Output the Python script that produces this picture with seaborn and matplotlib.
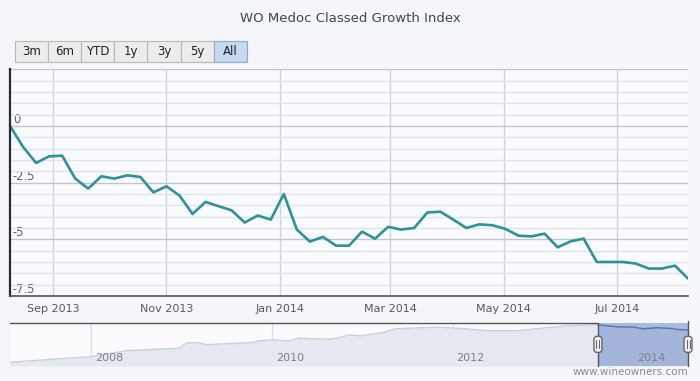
import pandas as pd
import matplotlib
matplotlib.use('Agg')
import matplotlib.pyplot as plt
import matplotlib.dates as mdates
from matplotlib.ticker import MultipleLocator
from matplotlib.patches import FancyBboxPatch
from matplotlib.transforms import IdentityTransform
import seaborn as sns

# --- data ---
title = 'WO Medoc Classed Growth Index'
range_buttons = ['3m', '6m', 'YTD', '1y', '3y', '5y', 'All']
selected_button = 'All'

# weekly index, % change since the start of the visible range
first_week = '2013-08-09'
index_change = [0.0, -0.92, -1.63, -1.34, -1.31, -2.32, -2.76, -2.22, -2.32, -2.18,
                -2.25, -2.93, -2.66, -3.07, -3.88, -3.35, -3.54, -3.72, -4.26, -3.95,
                -4.13, -3.00, -4.57, -5.10, -4.89, -5.28, -5.28, -4.66, -4.97, -4.45,
                -4.57, -4.50, -3.82, -3.78, -4.13, -4.50, -4.34, -4.38, -4.54, -4.84,
                -4.87, -4.75, -5.35, -5.09, -4.97, -6.00, -6.00, -6.00, -6.07, -6.29,
                -6.29, -6.16, -6.73]
y_ticks = [-7.5, -5, -2.5, 0, 2.5]
y_labels = ['-7.5', '-5', '-2.5', '0', '']

# navigator: full history of the index level
nav_dates = ['2007-02-06', '2008-01-01', '2008-05-22', '2008-12-20', '2009-01-22',
             '2009-03-10', '2009-04-08', '2009-08-18', '2009-10-08', '2009-11-06',
             '2009-12-28', '2010-03-15', '2010-04-16', '2010-08-15', '2010-09-24',
             '2010-11-10', '2010-12-24', '2011-03-25', '2011-05-04', '2011-07-01',
             '2011-10-30', '2012-01-18', '2012-05-18', '2012-09-16', '2013-02-06',
             '2013-04-05', '2013-07-26', '2013-08-09', '2013-11-01', '2014-01-03',
             '2014-02-07', '2014-04-04', '2014-06-13', '2014-06-20', '2014-08-08']
nav_level = [100.0, 114.9, 130.9, 137.2, 152.1, 151.3, 146.8, 150.5, 152.1, 156.7,
             159.3, 156.7, 163.8, 161.2, 164.6, 172.6, 170.0, 178.7, 187.8, 190.4,
             193.1, 190.4, 184.1, 184.1, 193.1, 196.6, 199.2, 199.2, 193.8, 193.2,
             188.7, 191.7, 189.3, 187.2, 185.8]
nav_years = [2008, 2010, 2012, 2014]

view_start = pd.Timestamp('2013-08-09')
view_end = pd.Timestamp('2014-08-08')
nav_start = pd.Timestamp('2007-02-06')

line_color = '#2e929b'

df = pd.DataFrame({'date': pd.date_range(first_week, periods=len(index_change), freq='7D'),
                   'change': index_change})
nav = pd.DataFrame({'date': pd.to_datetime(nav_dates), 'level': nav_level})

sns.set_theme(style='white')
plt.rcParams['font.family'] = ['DejaVu Sans']

fig = plt.figure(figsize=(7, 3.81), dpi=100, facecolor='#f5f6fa')
W, H = 700, 381

# --- main chart ---
ax = fig.add_axes([10 / W, 85 / H, 678 / W, 226.7 / H], facecolor='#fafbfe')
sns.lineplot(data=df, x='date', y='change', ax=ax, color=line_color, lw=1.9)
ax.set_xlim(view_start, view_end)
ax.set_ylim(-7.5, 2.5)
ax.set_xlabel('')
ax.set_ylabel('')

ax.xaxis.set_major_locator(mdates.MonthLocator(bymonth=[1, 3, 5, 7, 9, 11]))
ax.xaxis.set_major_formatter(mdates.DateFormatter('%b %Y'))
ax.tick_params(axis='x', length=6, width=1, direction='inout', color='#333333',
               labelsize=8, labelcolor='#5a5a5a', pad=3)

ax.set_yticks(y_ticks)
ax.set_yticklabels(y_labels, ha='left', va='bottom')
ax.yaxis.set_minor_locator(MultipleLocator(0.5))
ax.tick_params(axis='y', which='both', length=0, pad=-2, labelsize=8.3, labelcolor='#606060')

ax.grid(axis='y', which='major', color='#c4c5ca', lw=1)
ax.grid(axis='y', which='minor', color='#e2e3ea', lw=1)
ax.grid(axis='x', which='major', color='#d2d3d8', lw=1)
for s in ['top', 'right']:
    ax.spines[s].set_visible(False)
ax.spines['left'].set_color('#2b2b2b')
ax.spines['left'].set_linewidth(1.6)
ax.spines['bottom'].set_color('#555555')
ax.spines['bottom'].set_linewidth(1.2)

# --- navigator ---
nax = fig.add_axes([10 / W, 15 / H, 678 / W, 43.3 / H], facecolor='#fbfbfd')
nax.fill_between(nav['date'], nav['level'], 90, color='#e4e8f0', lw=0, zorder=1)
sns.lineplot(data=nav, x='date', y='level', ax=nax, color='#c9d0dc', lw=1, zorder=2)
nax.set_xlim(nav_start, view_end)
nax.set_ylim(90, 205)
nax.set_yticks([])
nax.set_xticks([pd.Timestamp(f'{y}-01-01') for y in nav_years])
nax.set_xticklabels([])
nax.tick_params(axis='x', length=0)
nax.grid(axis='x', color='#dcdfe6', lw=1)
nax.grid(axis='y', visible=False)
for s in nax.spines.values():
    s.set_visible(False)
for y in nav_years:
    nax.annotate(str(y), xy=(pd.Timestamp(f'{y}-01-01'), 0), xycoords=('data', 'axes fraction'),
                 xytext=(2.5, 2), textcoords='offset points', ha='left', va='bottom',
                 fontsize=8, color='#808080', zorder=5)

# selected range mask and highlighted series
nax.axvspan(view_start, view_end, color='#8ea5d3', alpha=0.75, lw=0, zorder=3)
sel = nav[nav['date'] >= view_start]
sns.lineplot(data=sel, x='date', y='level', ax=nax, color='#5775aa', lw=1, zorder=4)
nax.set_xlabel('')
nax.set_ylabel('')

# outline
xt = nax.get_xaxis_transform()
nax.plot([nav_start, view_start, view_start], [1, 1, 0], transform=xt,
         color='#555555', lw=1, clip_on=False, zorder=6)
nax.plot([view_end, view_end], [0, 1.03], transform=xt,
         color='#555555', lw=1, clip_on=False, zorder=6)

# handles
for d in [view_start, view_end]:
    px, py = nax.transData.transform((mdates.date2num(d), 0))
    _, cy = nax.transAxes.transform((0, 0.5))
    fig.add_artist(FancyBboxPatch((px - 4, cy - 8), 8, 16,
                                  boxstyle='round,pad=0,rounding_size=3',
                                  transform=IdentityTransform(), facecolor='#f2f2f2',
                                  edgecolor='#666666', lw=1, zorder=10))
    for dx in [-1.5, 1.5]:
        fig.add_artist(plt.Line2D([px + dx, px + dx], [cy - 4, cy + 4],
                                  transform=IdentityTransform(), color='#666666',
                                  lw=0.8, zorder=11))

# --- range selector buttons ---
bx, by, bw, bh = 15, H - 62, 33.1, 21
for i, lab in enumerate(range_buttons):
    on = lab == selected_button
    fig.add_artist(FancyBboxPatch((bx + i * bw, by), bw, bh,
                                  boxstyle='square,pad=0', transform=IdentityTransform(),
                                  facecolor='#c6d9f1' if on else '#ececec',
                                  edgecolor='#9aa9bf' if on else '#b8b8b8', lw=0.8))
    fig.text((bx + i * bw + bw / 2) / W, (by + bh / 2) / H, lab, ha='center', va='center',
             fontsize=8.5, color='#222222')

fig.text(0.5, 1 - 18 / H, title, ha='center', va='center', fontsize=9.5, color='#3d4656')
fig.text(688 / W, 1 - 372 / H, 'www.wineowners.com', ha='right', va='center',
         fontsize=7.5, color='#8c8c8c')

fig.savefig('out.png', dpi=100, facecolor=fig.get_facecolor())
